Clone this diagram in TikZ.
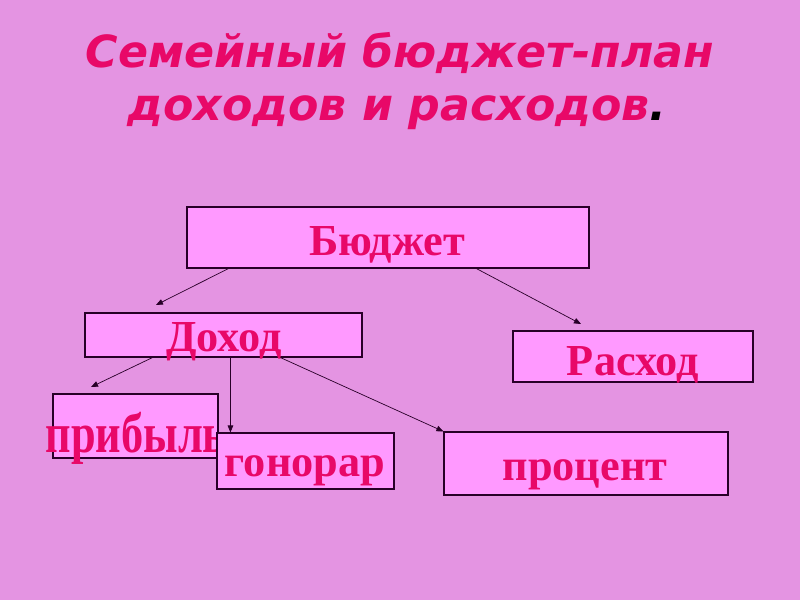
\documentclass[tikz,border=0pt]{standalone}
\usepackage{fontspec}
\setmainfont{Liberation Serif}
\newfontfamily\titlefont{DejaVu Sans}
\usetikzlibrary{arrows.meta,calc}
\definecolor{bgc}{RGB}{228,148,226}
\definecolor{boxc}{RGB}{255,153,255}
\definecolor{txtc}{RGB}{232,8,104}
\definecolor{linec}{RGB}{40,0,40}
\tikzset{
  box/.style 2 args={draw=linec, fill=boxc, line width=0.8pt, inner sep=0pt,
     minimum width=#1*0.025cm, minimum height=#2*0.025cm},
  word/.style={text=txtc, font=\bfseries\fontsize{31.5}{36}\selectfont, inner sep=0pt, anchor=base},
  ttl/.style={text=txtc, font=\titlefont\bfseries\itshape\fontsize{31.5}{36}\selectfont, anchor=base, inner sep=0pt},
  conn/.style={draw=linec, line width=0.5pt, -{Triangle[length=5pt,width=4pt]}}
}
\begin{document}
\begin{tikzpicture}[x=0.025cm,y=-0.025cm]
\fill[bgc] (0,0) rectangle (800,600);
\useasboundingbox (0,0) rectangle (800,600);
\node[ttl] (t1) at (400,67) {Семейный бюджет-план};
\node[ttl] (t2) at (397,120) {доходов и расходов\textcolor{black}{.}};
% boxes and words
\node[box={402}{61}] (b) at (388,237.5) {};
\node[word] (bt) at (387,255) {Бюджет};
\node[box={277}{44}] (d) at (223.5,335) {};
\node[word] (dt) at (224,351) {Доход};
\node[box={240}{51}] (r) at (633,356.5) {};
\node[word] (rt) at (633,375) {Расход};
\node[box={165}{64}] (p) at (135.5,426) {};
\node[word] (pt) at (136,452) {\scalebox{1}[1.27]{прибыль}};
\node[box={177}{56}] (g) at (305.5,461) {};
\node[word] (gt) at (305,476) {гонорар};
\node[box={284}{63}] (pr) at (586,463.5) {};
\node[word] (prt) at (585,480) {процент};
% connector end points
\coordinate (b1) at ($(b.south west)+(42,0)$);
\coordinate (b2) at ($(b.south west)+(290,0)$);
\coordinate (d1) at ($(d.south west)+(68,0)$);
\coordinate (d2) at ($(d.south west)+(146,0)$);
\coordinate (d3) at ($(d.south west)+(196,0)$);
\coordinate (e1) at (156,305);
\coordinate (e2) at (581,324);
\coordinate (e3) at (91,387);
\coordinate (e4) at (d2 |- g.north);
% connectors
\draw[conn] (b1) -- (e1);
\draw[conn] (b2) -- (e2);
\draw[conn] (d1) -- (e3);
\draw[conn] (d2) -- (e4);
\draw[conn] (d3) -- (pr.north west);
\end{tikzpicture}
\end{document}
